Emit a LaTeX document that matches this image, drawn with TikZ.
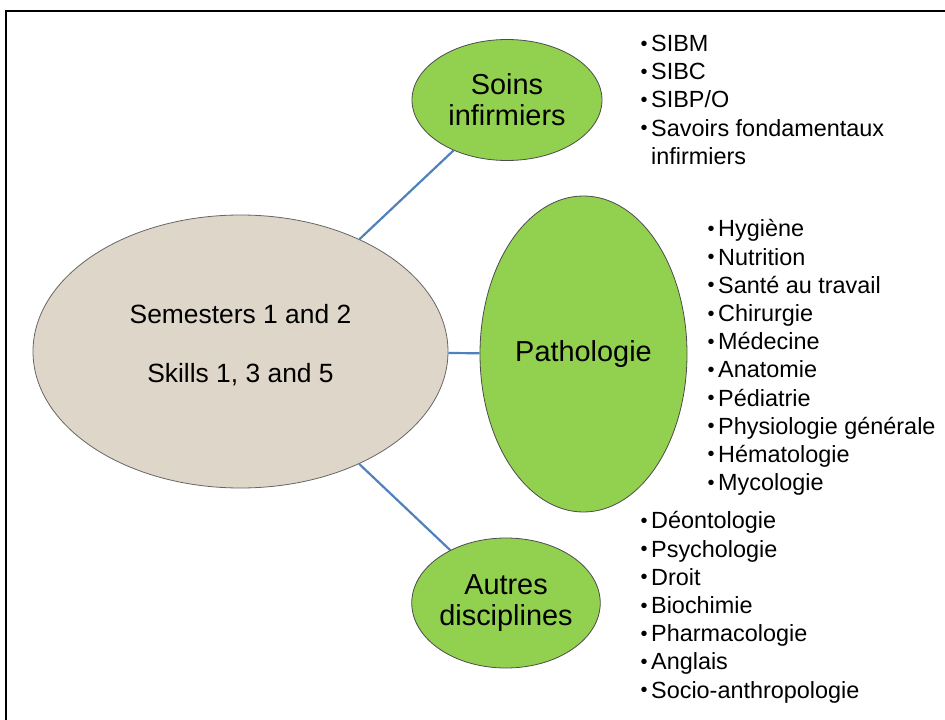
\documentclass[tikz,border=0pt]{standalone}
\usepackage{fontspec}
\setmainfont{Liberation Sans}
\usetikzlibrary{shapes.geometric}

\definecolor{leafgreen}{RGB}{146,208,80}
\definecolor{sandbeige}{RGB}{222,214,200}
\definecolor{linkblue}{RGB}{79,129,189}

\newcommand{\lbullet}{{\fontsize{20}{20}\selectfont\raisebox{1.5bp}{\textbullet}}\hspace{3.5bp}}

\tikzset{
  hub/.style={ellipse, draw=black!60, line width=0.8bp, fill=sandbeige,
    inner sep=0pt, align=center, font=\fontsize{26.5}{31}\selectfont},
  topic/.style={ellipse, draw=black!70, line width=0.8bp, fill=leafgreen,
    inner sep=0pt, align=center, font=\fontsize{29}{31}\selectfont},
  itemlist/.style={anchor=north west, inner sep=0pt, align=left,
    font=\fontsize{23.5}{28.3}\selectfont},
  link/.style={linkblue, line width=2.2bp},
}

\begin{document}
\begin{tikzpicture}[x=1bp,y=-1bp]
    \useasboundingbox (0,0) rectangle (945,720);
    % frame
    \draw[line width=2bp] (6,720) -- (6,11) -- (945,11);

    % centre and branches
    \node[hub, minimum width=415bp, minimum height=273bp] (sem) at (240.5,351.5)
        {Semesters 1 and 2\\[28bp]Skills 1, 3 and 5\rule[-17bp]{0pt}{0pt}};
    \node[topic, minimum width=190bp, minimum height=121bp] (soins) at (507,100)
        {Soins\\infirmiers};
    \node[topic, minimum width=207bp, minimum height=316bp] (patho) at (583.5,354)
        {Pathologie};
    \node[topic, minimum width=187bp, minimum height=130bp] (autres) at (506,603)
        {Autres\\disciplines};

    \draw[link] (sem) -- (soins);
    \draw[link] (sem) -- (patho);
    \draw[link] (sem) -- (autres);

    % lists
    \node[itemlist] (soinslist) at (640.5,35)
        {\lbullet SIBM\\\lbullet SIBC\\\lbullet SIBP/O\\
         \lbullet Savoirs fondamentaux\\\hphantom{\lbullet}infirmiers};
    \node[itemlist] (patholist) at (707.5,219.5)
        {\lbullet Hygiène\\\lbullet Nutrition\\\lbullet Santé au travail\\
         \lbullet Chirurgie\\\lbullet Médecine\\\lbullet Anatomie\\
         \lbullet Pédiatrie\\\lbullet Physiologie générale\\
         \lbullet Hématologie\\\lbullet Mycologie};
    \node[itemlist] (autreslist) at (640.5,511.5)
        {\lbullet Déontologie\\\lbullet Psychologie\\\lbullet Droit\\
         \lbullet Biochimie\\\lbullet Pharmacologie\\\lbullet Anglais\\
         \lbullet Socio-anthropologie};
\end{tikzpicture}
\end{document}
